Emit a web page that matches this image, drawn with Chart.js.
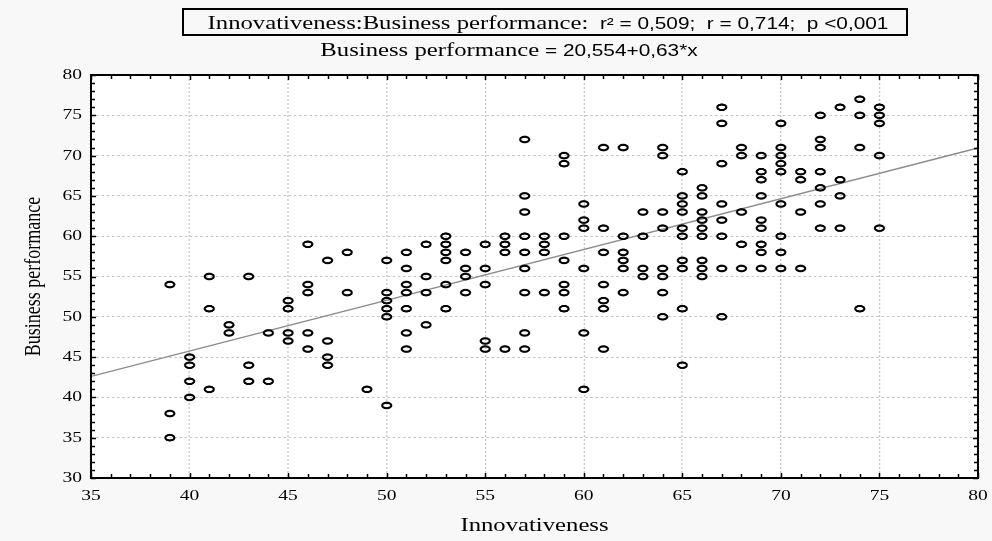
<!DOCTYPE html>
<html><head><meta charset="utf-8">
<script src="https://cdn.jsdelivr.net/npm/chart.js@4.4.0/dist/chart.umd.min.js"></script>
<style>html,body{margin:0;padding:0;background:#f8f8f8;overflow:hidden}canvas{display:block}</style>
</head><body>
<canvas id="c" width="763" height="541" style="width:992px;height:541px"></canvas>
<script>
// ---- data ----
const innovativeness = [
  39,39,39, 40,40,40,40, 41,41,41, 42,42, 43,43,43, 44,44, 45,45,45,45,
  46,46,46,46,46, 47,47,47,47, 48,48, 49, 50,50,50,50,50,50,
  51,51,51,51,51,51,51, 52,52,52,52, 53,53,53,53,53,53, 54,54,54,54,
  55,55,55,55,55, 56,56,56,56, 57,57,57,57,57,57,57,57,57, 58,58,58,58,
  59,59,59,59,59,59,59, 60,60,60,60,60,60, 61,61,61,61,61,61,61,
  62,62,62,62,62,62, 63,63,63,63, 64,64,64,64,64,64,64,64,
  65,65,65,65,65,65,65,65,65,65, 66,66,66,66,66,66,66,66,66,
  67,67,67,67,67,67,67,67, 68,68,68,68,68, 69,69,69,69,69,69,69,69,69,
  70,70,70,70,70,70,70,70,70, 71,71,71,71, 72,72,72,72,72,72,72,
  73,73,73,73, 74,74,74,74, 75,75,75,75,75
];
const businessPerformance = [
  54,38,35, 45,44,42,40, 55,51,41, 49,48, 55,44,42, 48,42, 52,51,48,47,
  59,54,53,48,46, 57,47,45,44, 58,53, 41, 57,53,52,51,50,39,
  58,56,54,53,51,48,46, 59,55,53,49, 60,59,58,57,54,51, 58,56,55,53,
  59,56,54,47,46, 60,59,58,46, 72,65,63,60,58,56,53,48,46, 60,59,58,53,
  70,69,60,57,54,53,51, 64,62,61,56,48,41, 71,61,58,54,52,51,46,
  71,60,58,57,56,53, 63,60,56,55, 71,70,63,61,56,55,53,50,
  68,65,64,63,61,60,57,56,51,44, 66,65,63,62,61,60,57,56,55,
  76,74,69,64,62,60,56,50, 71,70,63,59,56, 70,68,67,65,62,61,59,58,56,
  74,71,70,69,68,64,60,58,56, 68,67,63,56, 75,72,71,68,66,64,61,
  76,67,65,61, 77,75,71,51, 76,75,74,70,61
];
const xTickLabels = [35,40,45,50,55,60,65,70,75,80];
const yTickLabels = [30,35,40,45,50,55,60,65,70,75,80];
const fitLineX = [35, 80];
const fitLineY = [42.6, 70.95];
const headerMain = 'Innovativeness:Business performance:';
const headerStats = '  r\u00B2 = 0,509;  r = 0,714;  p <0,001';
const eqLeft = 'Business performance';
const eqRight = ' = 20,554+0,63*x';
const xTitle = 'Innovativeness';
const yTitle = 'Business performance';

// ---- rendering ----
const SCREEN_W = 992, H = 541;
const canvas = document.getElementById('c');
const W = canvas.width;            // logical chart width
const K = SCREEN_W / W;            // horizontal stretch of the original picture
const SERIF = '"Liberation Serif","Times New Roman",serif';
const SANS = '"Liberation Sans",Arial,sans-serif';

function makeMarker(done) {
  const S = 4, iw = 10, ih = 9;
  const off = document.createElement('canvas');
  off.width = iw * S; off.height = ih * S;
  const c = off.getContext('2d');
  c.scale(S / K, S);
  const sw = iw * K;
  c.beginPath();
  c.ellipse(sw / 2, ih / 2, 4.5, 2.75, 0, 0, Math.PI * 2);
  c.lineWidth = 2.1; c.strokeStyle = '#000'; c.stroke();
  const img = new Image();
  img.onload = () => { img.width = iw; img.height = ih; done(img); };
  img.onerror = () => done('circle');
  img.src = off.toDataURL();
}

function drawMixed(ctx, parts, cx, baseline) {
  let total = 0;
  parts.forEach(p => { ctx.font = p[1]; p.w = ctx.measureText(p[0]).width; total += p.w; });
  let x = cx - total / 2;
  ctx.textBaseline = 'alphabetic'; ctx.textAlign = 'left'; ctx.fillStyle = '#000';
  parts.forEach(p => { ctx.font = p[1]; ctx.fillText(p[0], x, baseline); x += p.w; });
}

const decor = {
  id: 'decor',
  beforeDraw(chart) {
    const ctx = chart.ctx, a = chart.chartArea;
    ctx.save(); ctx.setTransform(1, 0, 0, 1, 0, 0);
    ctx.fillStyle = '#f8f8f8'; ctx.fillRect(0, 0, chart.canvas.width, chart.canvas.height);
    ctx.fillStyle = '#ffffff'; ctx.fillRect(a.left * K, a.top, (a.right - a.left) * K, a.bottom - a.top);
    ctx.restore();
    ctx.imageSmoothingEnabled = true; ctx.imageSmoothingQuality = 'high';
  },
  afterDraw(chart) {
    const ctx = chart.ctx, a = chart.chartArea;
    const xs = chart.scales.x, ys = chart.scales.y;
    const L = a.left * K, R = a.right * K, T = a.top, B = a.bottom;
    ctx.save(); ctx.setTransform(1, 0, 0, 1, 0, 0);
    ctx.strokeStyle = '#000'; ctx.lineWidth = 1.5; ctx.beginPath();
    for (let v = Math.ceil(xs.min); v <= xs.max; v++) {
      const px = Math.round(xs.getPixelForValue(v) * K) + 0.5, len = v % 5 === 0 ? 5 : 4;
      ctx.moveTo(px, B); ctx.lineTo(px, B - len);
      ctx.moveTo(px, T); ctx.lineTo(px, T + len);
    }
    for (let v = Math.ceil(ys.min); v <= ys.max; v++) {
      const py = Math.round(ys.getPixelForValue(v)) + 0.5, len = v % 5 === 0 ? 5 : 4;
      ctx.moveTo(L, py); ctx.lineTo(L + len, py);
      ctx.moveTo(R, py); ctx.lineTo(R - len, py);
    }
    ctx.stroke();
    ctx.lineWidth = 2; ctx.strokeRect(L, T, R - L, B - T);
    // header box
    ctx.lineWidth = 2; ctx.strokeRect(183, 9, 724, 26);
    ctx.restore();
    drawMixed(ctx, [[headerMain, '19px ' + SERIF], [headerStats, '16px ' + SANS]], 548 / K, 28.5);
    drawMixed(ctx, [[eqLeft, '19px ' + SERIF], [eqRight, '16px ' + SANS]], 509 / K, 55.5);
  }
};

function build(marker) {
  const points = innovativeness.map((x, i) => ({ x: x, y: businessPerformance[i] }));
  const fit = fitLineX.map((x, i) => ({ x: x, y: fitLineY[i] }));
  const gridCommon = { color: '#c6c6c6', lineWidth: 1, drawTicks: false };
  const chart = new Chart(canvas, {
    data: {
      datasets: [
        { type: 'line', data: fit, borderColor: '#8c8c8c', borderWidth: 1.3, pointRadius: 0, fill: false, order: 2 },
        { type: 'scatter', data: points, pointStyle: marker, pointRadius: 3.5, borderColor: '#000',
          backgroundColor: 'rgba(0,0,0,0)', borderWidth: 1.4, order: 1 }
      ]
    },
    options: {
      responsive: false, animation: false, devicePixelRatio: 1, events: [],
      layout: { padding: { top: 75, right: 14 / K, left: 0, bottom: 0 } },
      plugins: { legend: { display: false }, tooltip: { enabled: false }, title: { display: false } },
      scales: {
        x: {
          type: 'linear', min: 35, max: 80,
          afterBuildTicks: s => { s.ticks = xTickLabels.map(v => ({ value: v })); },
          afterFit: s => { s.height = 63; s.paddingLeft = 0; s.paddingRight = 0; },
          grid: gridCommon, border: { display: false, dash: [2, 2] },
          ticks: { color: '#000', padding: 9, maxRotation: 0, autoSkip: false, font: { family: SERIF, size: 15 } },
          title: { display: true, text: xTitle, color: '#000', padding: { top: 0, bottom: 3.5 }, font: { family: SERIF, size: 19 } }
        },
        y: {
          type: 'linear', min: 30, max: 80,
          afterBuildTicks: s => { s.ticks = yTickLabels.map(v => ({ value: v })); },
          afterFit: s => { s.width = 91 / K; s.paddingTop = 0; s.paddingBottom = 0; },
          grid: gridCommon, border: { display: false, dash: [2, 2] },
          ticks: { color: '#000', padding: 6.9, autoSkip: false, font: { family: SERIF, size: 15 } },
          title: { display: true, text: yTitle, color: '#000', padding: { top: 15.2, bottom: 0 }, font: { family: SERIF, size: 18 } }
        }
      }
    },
    plugins: [decor]
  });
  // widen the backing store to the screen size and stretch drawing horizontally
  canvas.width = SCREEN_W; canvas.height = H;
  chart.ctx.setTransform(K, 0, 0, 1, 0, 0);
  chart.draw();
}
makeMarker(build);
</script>
</body></html>
